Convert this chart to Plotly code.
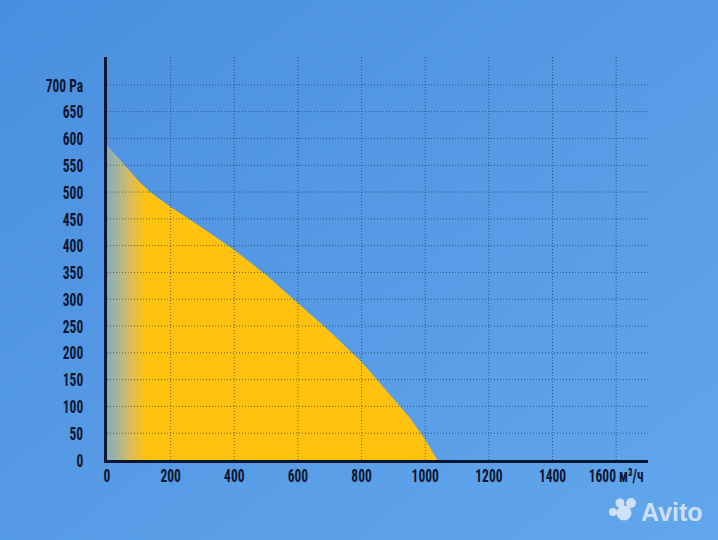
import base64
import plotly.graph_objects as go

# Data
flow = [0, 50, 100, 135, 200, 300, 400, 500, 600, 700, 800, 900, 950, 1000, 1038]
pressure = [588, 555, 520, 500, 472, 433, 392, 345, 293, 240, 183, 115, 80, 38, 0]

x_ticks = [0, 200, 400, 600, 800, 1000, 1200, 1400, 1600]
x_labels = ["0", "200", "400", "600", "800", "1000", "1200", "1400", "1600 м³/ч"]
y_ticks = [0, 50, 100, 150, 200, 250, 300, 350, 400, 450, 500, 550, 600, 650, 700]
y_labels = [str(v) for v in y_ticks[:-1]] + ["700 Pa"]

X_MAX = 1700
Y_MAX = 752

W, H = 718, 540
ML, MR, MT, MB = 107, 70, 57, 80
PW, PH = W - ML - MR, H - MT - MB

FONT = "Roboto Condensed, Open Sans Condensed, sans-serif"
INK = "#0b1630"

fig = go.Figure()
fig.add_trace(go.Scatter(
    x=flow, y=pressure, mode="lines", line=dict(width=0, color="#ffc20e"),
    fill="tozeroy",
    fillgradient=dict(type="horizontal", colorscale=[
        [0.0, "#88acb8"], [0.03, "#a2b49e"], [0.07, "#dcbc5a"],
        [0.12, "#ffc20e"], [1.0, "#ffc20e"]]),
    hoverinfo="skip", showlegend=False,
))

shapes = []
grid = dict(color="rgba(25,35,60,0.6)", width=1, dash="1px,2px")
for xv in x_ticks[1:]:
    shapes.append(dict(type="line", xref="x", yref="y", x0=xv, x1=xv, y0=0, y1=Y_MAX,
                       line=grid, layer="above"))
for yv in y_ticks[1:]:
    shapes.append(dict(type="line", xref="x", yref="y", x0=0, x1=X_MAX, y0=yv, y1=yv,
                       line=grid, layer="above"))

# Avito watermark (decoration) in pixel -> paper coords
def px(xp):
    return (xp - ML) / PW

def py(yp):
    return (H - MB - yp) / PH

logo = "rgba(235,240,250,0.8)"
for cx, cy, r in [(624, 513, 7.5), (620, 503, 4.5), (631, 503, 5), (613, 512, 4)]:
    shapes.append(dict(type="circle", xref="paper", yref="paper",
                       x0=px(cx - r), x1=px(cx + r), y0=py(cy + r), y1=py(cy - r),
                       fillcolor=logo, line=dict(width=0), layer="above"))

svg = f'''<svg xmlns="http://www.w3.org/2000/svg" width="{W}" height="{H}">
<defs><linearGradient id="g" x1="0" y1="0" x2="1" y2="1">
<stop offset="0" stop-color="#4a8fdf"/><stop offset="1" stop-color="#62a6ec"/>
</linearGradient></defs><rect width="{W}" height="{H}" fill="url(#g)"/></svg>'''
src = "data:image/svg+xml;base64," + base64.b64encode(svg.encode()).decode()

fig.update_layout(
    width=W, height=H,
    margin=dict(l=ML, r=MR, t=MT, b=MB, pad=0),
    paper_bgcolor="#559ae5", plot_bgcolor="rgba(0,0,0,0)",
    images=[dict(source=src, xref="paper", yref="paper", x=px(0), y=py(0),
                 sizex=W / PW, sizey=H / PH, xanchor="left", yanchor="top",
                 sizing="stretch", layer="below")],
    shapes=shapes,
    annotations=[dict(text="<b>Avito</b>", xref="paper", yref="paper",
                      x=px(639), y=py(512), xanchor="left", yanchor="middle",
                      showarrow=False,
                      font=dict(family="Liberation Sans, Arial, sans-serif", size=25, color=logo))],
    xaxis=dict(range=[0, X_MAX], tickvals=x_ticks, ticktext=x_labels, showgrid=False,
               zeroline=False, showline=True, linewidth=3, linecolor=INK, ticks="",
               tickangle=0,
               tickfont=dict(family=FONT, size=19, color=INK, weight="bold"),
               ticklabelstandoff=-4, layer="above traces"),
    yaxis=dict(range=[0, Y_MAX], tickvals=y_ticks, ticktext=y_labels, showgrid=False,
               zeroline=False, showline=True, linewidth=3, linecolor=INK, ticks="",
               tickfont=dict(family=FONT, size=19, color=INK, weight="bold"),
               ticklabelstandoff=17, layer="above traces"),
)

post = """
document.body.style.margin='0';
(function(){
  var gd = document.getElementById('{plot_id}');
  function squeeze(){
    document.querySelectorAll('.xtick text, .ytick text').forEach(function(t){
      if (t.getAttribute('data-sq')) return;
      var ox = parseFloat(t.getAttribute('x') || 0);
      var tr = t.getAttribute('transform') || '';
      t.setAttribute('transform', tr + ' translate(' + ox + ',0) scale(0.71,1) translate(' + (-ox) + ',0)');
      t.setAttribute('data-sq', '1');
    });
  }
  squeeze();
  if (gd && gd.on) gd.on('plotly_afterplot', squeeze);
})();
"""

fig.write_html("out.html", config={"displayModeBar": False}, post_script=post)
